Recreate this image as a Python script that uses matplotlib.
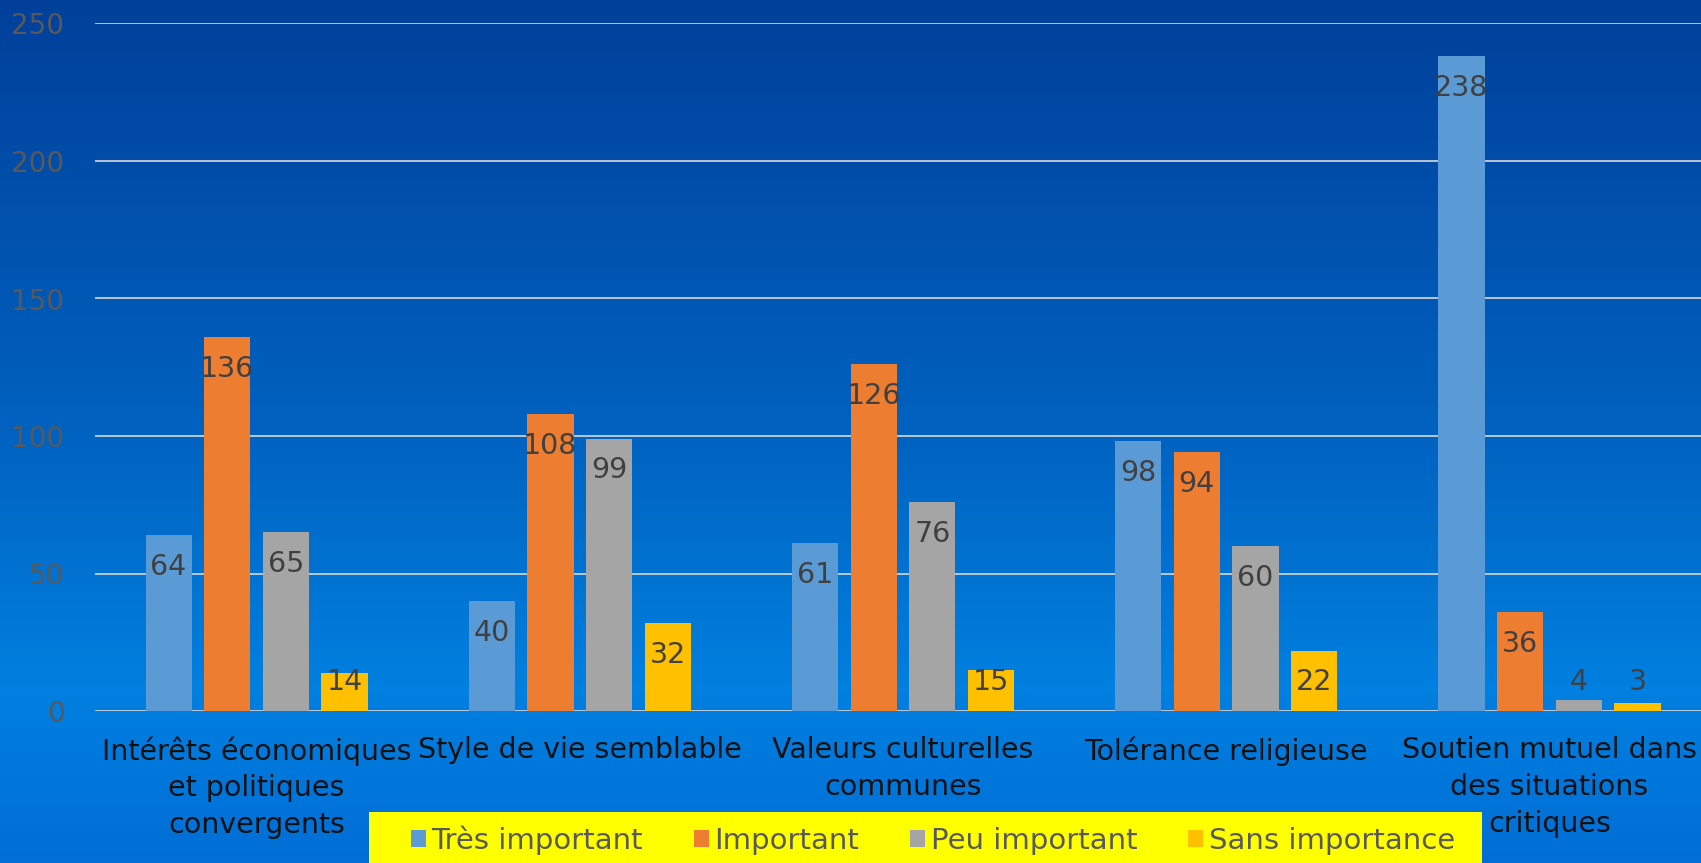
import numpy as np
import matplotlib
matplotlib.use("Agg")
import matplotlib.pyplot as plt
from matplotlib.colors import LinearSegmentedColormap
from matplotlib.patches import Rectangle

categories = [
    "Intérêts économiques\net politiques\nconvergents",
    "Style de vie semblable",
    "Valeurs culturelles\ncommunes",
    "Tolérance religieuse",
    "Soutien mutuel dans\ndes situations\ncritiques",
]
series_names = ["Très important", "Important", "Peu important", "Sans importance"]
tres_important = [64, 40, 61, 98, 238]
important = [136, 108, 126, 94, 36]
peu_important = [65, 99, 76, 60, 4]
sans_importance = [14, 32, 15, 22, 3]
yticks = [0, 50, 100, 150, 200, 250]

colors = ["#5B9BD5", "#ED7D31", "#A5A5A5", "#FFC000"]
plt.rcParams["font.family"] = ["DejaVu Sans"]

fig = plt.figure(figsize=(17.01, 8.63), dpi=100)

# gradient background
bg = fig.add_axes([0, 0, 1, 1], zorder=-10)
cmap = LinearSegmentedColormap.from_list(
    "bg", [(0, "#00409A"), (0.5, "#0062C0"), (0.8, "#0080E0"), (1.0, "#006ED6")])
grad = np.linspace(0, 1, 256).reshape(-1, 1)
bg.imshow(grad, aspect="auto", cmap=cmap, extent=[0, 1, 1, 0])
bg.set_axis_off()

ax = fig.add_axes([95 / 1701, 152 / 863, 1616 / 1701, 687.5 / 863])
ax.patch.set_alpha(0)

series = [tres_important, important, peu_important, sans_importance]
x = np.arange(len(categories))
step, width = 0.1815, 0.143
for i, (vals, name, c) in enumerate(zip(series, series_names, colors)):
    xs = x + (i - 1.5) * step
    ax.bar(xs, vals, width, color=c, label=name, zorder=3)
    for xi, v in zip(xs, vals):
        ax.text(xi, max(v - 11.5, 10.5), str(v), ha="center", va="center",
                fontsize=20.5, color="#404040", zorder=4)

ax.set_xlim(-0.5, 4.5)
ax.set_ylim(0, 250)
ax.set_yticks(yticks)
ax.grid(axis="y", color="#D9D9D9", linewidth=1.2, zorder=1)
ax.set_axisbelow(True)
for s in ax.spines.values():
    s.set_visible(False)
ax.tick_params(axis="y", length=0, pad=22, labelcolor="#595959", labelsize=20)
ax.tick_params(axis="x", length=0, pad=18, labelcolor="#111111", labelsize=20.5)
ax.set_xticks(x)
ax.set_xticklabels(categories, linespacing=1.4)

# legend box
fig.patches.append(Rectangle((369 / 1701, 0), 1113 / 1701, 51 / 863,
                             transform=fig.transFigure, facecolor="#FFFF00",
                             edgecolor="none", zorder=5))
handles, labels = ax.get_legend_handles_labels()
leg = fig.legend(handles, labels, loc="center", ncol=4,
                 bbox_to_anchor=(933 / 1701, 23 / 863), frameon=False,
                 handlelength=0.5, handleheight=0.5, handletextpad=0.2,
                 columnspacing=1.75, prop=dict(size=21))
leg.set_zorder(6)
for t in leg.get_texts():
    t.set_color("#595959")

fig.savefig("out.png", dpi=100)
